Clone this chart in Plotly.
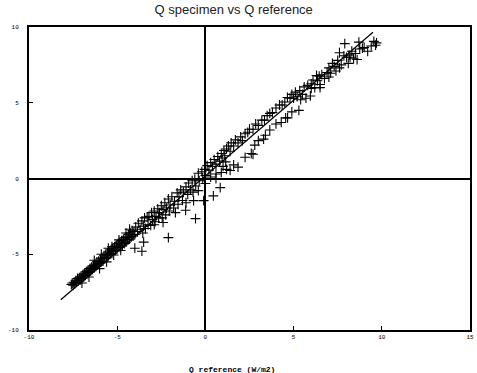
import plotly.graph_objects as go

q_ref = [
 -7.6,-7.55,-7.5,-7.45,-7.4,-7.35,-7.3,-7.25,-7.2,-7.15,-7.1,-7.05,-7.0,-6.95,-6.9,-6.85,-6.8,-6.75,-6.7,-6.65,
 -6.6,-6.55,-6.5,-6.45,-6.4,-6.35,-6.3,-6.25,-6.2,-6.15,-6.1,-6.05,-6.0,-5.95,-5.9,-5.85,-5.8,-5.75,-5.7,-5.65,
 -5.6,-5.55,-5.5,-5.45,-5.4,-5.35,-5.3,-5.25,-5.2,-5.15,-5.1,-5.05,-5.0,-4.95,-4.9,-4.85,-4.8,-4.75,-4.7,-4.65,
 -4.6,-4.55,-4.5,-4.45,-4.4,-4.35,-4.3,-4.25,-4.2,-4.15,-4.1,-4.05,-4.0,
 -6.3,-5.9,-5.5,-6.0,-5.6,-5.2,-4.8,-7.0,-6.6,-5.3,-4.9,-4.5,-4.3,
 -3.95,-3.85,-3.8,-3.7,-3.6,-3.55,-3.5,-3.45,-3.4,-3.3,-3.25,-3.2,-3.1,-3.05,-3.0,-2.9,-2.85,-2.8,-2.7,-2.65,
 -2.6,-2.5,-2.45,-2.4,-2.3,-2.25,-2.2,-2.1,-2.05,-2.0,-1.9,-1.8,-1.75,-1.7,-1.6,-1.55,-1.5,-1.4,-1.3,-1.25,
 -1.1,-1.1,-1.0,-0.95,-0.85,-0.75,-0.7,-0.6,-0.55,-0.4,-0.35,-0.2,-0.15,-0.05,0.0,
 -3.6,-4.0,-3.5,-2.1,-0.56,-1.12,-0.67,-0.1,0.0,-0.4,-2.9,-2.4,
 0.1,0.2,0.3,0.4,0.5,0.6,0.7,0.8,0.9,0.95,1.05,1.1,1.2,1.3,1.4,1.46,1.6,1.7,1.85,2.0,
 2.1,2.25,2.4,2.5,2.7,2.85,3.0,3.2,3.35,3.5,3.65,3.8,4.0,4.2,4.35,4.5,4.65,4.8,4.9,
 0.3,0.6,0.9,1.2,1.4,1.6,1.85,2.25,2.6,2.8,3.0,3.3,3.65,4.0,4.3,4.66,4.9,
 0.45,0.84,0.6,1.0,1.15,2.7,3.4,4.55,
 5.0,5.1,5.2,5.3,5.35,5.5,5.6,5.7,5.8,5.95,6.0,6.1,6.2,6.35,6.45,6.5,6.6,6.75,6.9,7.0,
 7.1,7.2,7.3,7.4,7.5,7.6,7.7,7.85,7.9,8.0,8.1,8.15,8.3,8.4,8.5,8.6,8.7,8.75,8.9,9.0,
 9.2,9.4,9.55,9.7,9.65,5.4,6.0,6.5,6.3,7.0,7.6,8.2,
]
q_spec = [
 -7.0,-6.9,-7.05,-6.85,-6.95,-6.75,-6.85,-6.6,-6.75,-6.55,-6.7,-6.45,-6.6,-6.35,-6.5,-6.25,-6.4,-6.15,-6.3,-6.05,
 -6.2,-5.95,-6.1,-5.85,-6.0,-5.75,-5.9,-5.65,-5.8,-5.5,-5.7,-5.45,-5.6,-5.3,-5.5,-5.25,-5.45,-5.1,-5.3,-5.0,
 -5.2,-4.9,-5.1,-4.8,-5.0,-4.7,-4.95,-4.6,-4.8,-4.5,-4.75,-4.4,-4.65,-4.3,-4.55,-4.2,-4.5,-4.1,-4.4,-4.0,
 -4.3,-3.9,-4.2,-3.85,-4.05,-3.7,-4.0,-3.6,-3.85,-3.45,-3.8,-3.5,-3.7,
 -5.4,-5.0,-4.6,-5.95,-5.5,-5.05,-4.75,-6.9,-6.5,-4.5,-4.05,-3.6,-3.35,
 -3.2,-3.5,-2.95,-3.35,-2.8,-3.6,-3.15,-2.6,-3.3,-2.55,-3.05,-2.5,-3.1,-2.25,-2.7,-2.15,-2.85,-2.5,-2.0,-2.6,
 -2.25,-1.8,-2.6,-2.05,-1.6,-2.4,-1.95,-1.35,-2.15,-1.75,-1.2,-1.95,-1.5,-2.25,-0.95,-1.7,-1.2,-0.75,-1.45,-0.9,
 -0.55,-1.6,-1.05,-0.3,-0.75,-0.15,-0.9,-0.05,-0.5,0.35,-0.15,0.45,0.0,0.6,0.2,
 -4.8,-4.6,-4.2,-3.9,-2.65,-2.1,-1.46,-1.46,-0.33,-0.8,-3.05,-2.9,
 0.85,0.55,1.05,0.8,1.25,0.95,1.45,1.15,1.65,1.35,1.85,1.5,1.95,2.15,1.8,2.35,2.15,2.55,2.35,2.75,
 2.5,2.95,3.05,3.25,3.25,3.6,3.5,3.85,3.85,4.15,4.3,4.35,4.65,4.85,4.85,5.05,5.35,5.3,5.55,
 0.1,0.3,0.4,0.6,0.53,0.9,0.75,1.4,1.65,2.2,2.5,2.6,3.2,3.6,3.7,4.0,4.4,
 -1.15,-0.6,0.0,0.8,1.1,1.6,2.85,4.0,
 5.3,5.7,5.4,4.5,5.8,5.55,6.05,5.3,6.15,5.45,6.25,6.5,6.0,6.45,6.75,6.2,6.85,6.6,7.0,7.3,
 6.95,7.6,7.4,7.1,7.8,8.3,7.5,8.1,8.9,8.0,7.6,8.15,8.4,7.9,8.25,7.85,9.0,8.55,8.6,8.65,
 8.4,8.75,9.05,8.95,8.8,5.2,5.95,6.0,6.8,6.7,7.3,8.0,
]

# fitted line end points
fit_x = [-8.2, 9.5]
fit_y = [-8.0, 9.65]

x_ticks = [-10, -5, 0, 5, 10, 15]
y_ticks = [-10, -5, 0, 5, 10]

fig = go.Figure()
fig.add_trace(go.Scatter(x=fit_x, y=fit_y, mode="lines",
                         line=dict(color="black", width=1.2), showlegend=False))
fig.add_trace(go.Scatter(x=q_ref, y=q_spec, mode="markers",
                         marker=dict(symbol="cross-thin", size=7,
                                     line=dict(color="black", width=1.1)),
                         showlegend=False))

tickfont = dict(family="Liberation Mono", size=6, color="black")
fig.update_xaxes(range=[-10, 15], tickvals=x_ticks, ticktext=[str(v) for v in x_ticks],
                 showgrid=False, zeroline=True, zerolinecolor="black", zerolinewidth=1.5,
                 showline=True, linecolor="black", linewidth=2, mirror=True,
                 ticks="inside", ticklen=4, tickcolor="black", tickfont=tickfont)
fig.update_yaxes(range=[-10, 10], tickvals=y_ticks, ticktext=[str(v) for v in y_ticks],
                 showgrid=False, zeroline=True, zerolinecolor="black", zerolinewidth=1.5,
                 showline=True, linecolor="black", linewidth=2, mirror=True,
                 ticks="inside", ticklen=4, tickcolor="black", tickfont=tickfont,
                 ticklabelstandoff=7)

fig.update_layout(
    width=477, height=373,
    margin=dict(l=29, r=3, t=27, b=43),
    plot_bgcolor="white", paper_bgcolor="white",
    title=dict(text="Q specimen vs Q reference", x=0.49, xanchor="center",
               y=0.975, yanchor="middle",
               font=dict(family="Liberation Sans", size=13, color="#222222")),
    annotations=[dict(text="<b>Q reference (W/m2)</b>", xref="paper", yref="paper",
                      x=0.46, y=-0.13, xanchor="center", yanchor="middle",
                      showarrow=False,
                      font=dict(family="Liberation Mono", size=8, color="black"))],
)

fig.write_html("out.html")
